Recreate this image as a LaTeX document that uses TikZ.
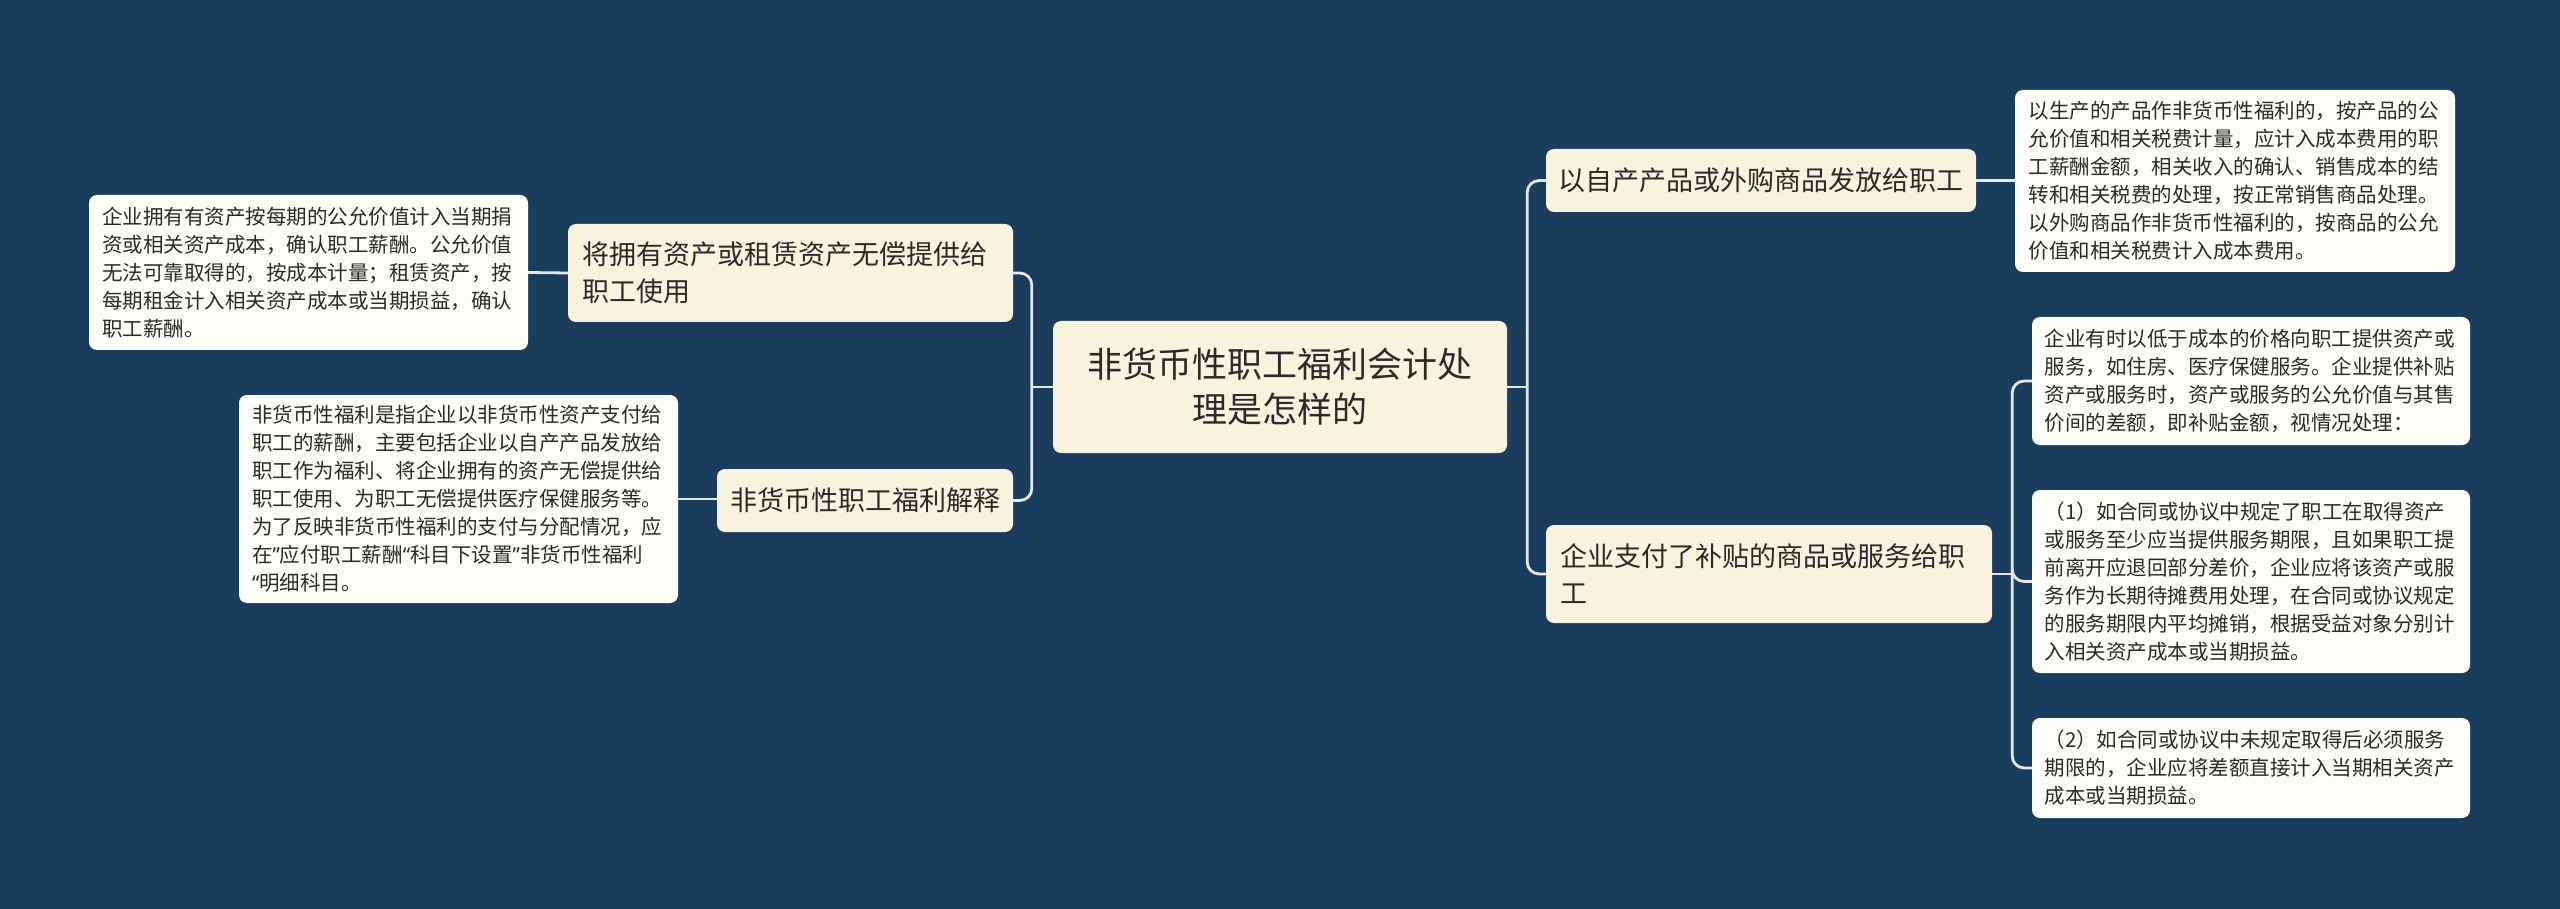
\documentclass[tikz,border=0pt]{standalone}
\usepackage{fontspec}
\newfontfamily\cjk{Noto Sans CJK SC}
\newfontfamily\lat{Noto Sans}
\usetikzlibrary{calc}
\definecolor{bg}{HTML}{1A3D5E}
\definecolor{cream}{HTML}{F8F3DF}
\definecolor{leaf}{HTML}{FDFDF8}
\definecolor{ink}{HTML}{2A2A2A}
\definecolor{wire}{HTML}{E4E8EC}
\newcommand{\myrq}{{\lat ”}}
\newcommand{\mylq}{{\lat “}}
\begin{document}
\begin{tikzpicture}[x=1pt,y=-1pt,
  base/.style={rounded corners=8pt, inner sep=0pt, text=ink, anchor=center},
  rootbox/.style={base, fill=cream, align=center, font=\cjk\fontsize{35}{45}\selectfont},
  midbox/.style={base, fill=cream, align=left, font=\cjk\fontsize{27}{37}\selectfont},
  midc/.style={base, fill=cream, align=center, font=\cjk\fontsize{27}{37}\selectfont},
  leafbox/.style={base, fill=leaf, align=left, minimum width=439pt, text width=413pt, font=\cjk\fontsize{20.5}{28}\selectfont},
  conn/.style={draw=wire, line width=2.8pt, rounded corners=12pt}
]
\fill[bg] (0,0) rectangle (2560,909);
\useasboundingbox (0,0) rectangle (2560,909);

% root
\node[rootbox, minimum width=454pt, minimum height=132pt, text width=430pt] (c) at (1280,387)
  {非货币性职工福利会计处\\理是怎样的};

% left level
\node[midbox, minimum width=445pt, minimum height=98pt, text width=417pt] (n1) at (790.5,273)
  {将拥有资产或租赁资产无偿提供给\\职工使用};
\node[midc, minimum width=296pt, minimum height=63pt, text width=280pt] (n2) at (865,500.5)
  {非货币性职工福利解释};

% right level
\node[midc, minimum width=430pt, minimum height=63pt, text width=416pt] (n3) at (1761,180.5)
  {以自产产品或外购商品发放给职工};
\node[midbox, minimum width=446pt, minimum height=98pt, text width=418pt] (n4) at (1769,574)
  {企业支付了补贴的商品或服务给职\\工};

% left leaves
\node[leafbox, minimum height=155pt] (l1) at (308.5,272.5)
  {企业拥有有资产按每期的公允价值计入当期捐\\
   资或相关资产成本，确认职工薪酬。公允价值\\
   无法可靠取得的，按成本计量；租赁资产，按\\
   每期租金计入相关资产成本或当期损益，确认\\
   职工薪酬。};
\node[leafbox, minimum height=208pt] (l2) at (458.5,499)
  {非货币性福利是指企业以非货币性资产支付给\\
   职工的薪酬，主要包括企业以自产产品发放给\\
   职工作为福利、将企业拥有的资产无偿提供给\\
   职工使用、为职工无偿提供医疗保健服务等。\\
   为了反映非货币性福利的支付与分配情况，应\\
   在\myrq 应付职工薪酬\mylq 科目下设置\myrq 非货币性福利\\
   \mylq 明细科目。};

% right leaves
\node[leafbox, minimum width=440pt, minimum height=182pt] (r1) at (2235,181)
  {以生产的产品作非货币性福利的，按产品的公\\
   允价值和相关税费计量，应计入成本费用的职\\
   工薪酬金额，相关收入的确认、销售成本的结\\
   转和相关税费的处理，按正常销售商品处理。\\
   以外购商品作非货币性福利的，按商品的公允\\
   价值和相关税费计入成本费用。};
\node[leafbox, minimum width=438pt, minimum height=128pt] (r2) at (2251,381)
  {企业有时以低于成本的价格向职工提供资产或\\
   服务，如住房、医疗保健服务。企业提供补贴\\
   资产或服务时，资产或服务的公允价值与其售\\
   价间的差额，即补贴金额，视情况处理：};
\node[leafbox, minimum width=438pt, minimum height=183pt] (r3) at (2251,581.5)
  {（1）如合同或协议中规定了职工在取得资产\\
   或服务至少应当提供服务期限，且如果职工提\\
   前离开应退回部分差价，企业应将该资产或服\\
   务作为长期待摊费用处理，在合同或协议规定\\
   的服务期限内平均摊销，根据受益对象分别计\\
   入相关资产成本或当期损益。};
\node[leafbox, minimum width=438pt, minimum height=100pt] (r4) at (2251,768)
  {（2）如合同或协议中未规定取得后必须服务\\
   期限的，企业应将差额直接计入当期相关资产\\
   成本或当期损益。};

% connectors
\coordinate (sl) at ($(c.west)+(-21,0)$);
\coordinate (sr) at ($(c.east)+(20,0)$);
\coordinate (s4) at ($(n4.east)+(20,0)$);

\draw[conn] (c.west) -- (sl);
\draw[conn] (sl) |- (n1.east);
\draw[conn] (sl) |- (n2.east);
\draw[conn] (c.east) -- (sr);
\draw[conn] (sr) |- (n3.west);
\draw[conn] (sr) |- (n4.west);
\draw[conn] (l1.east) -- (n1.west);
\draw[conn] (l2.east) -- (l2.east -| n2.west);
\draw[conn] (n3.east) -- (n3.east -| r1.west);
\draw[conn] (n4.east) -- (s4);
\draw[conn] (s4) |- (r2.west);
\draw[conn] (s4) |- (r3.west);
\draw[conn] (s4) |- (r4.west);
\end{tikzpicture}
\end{document}
